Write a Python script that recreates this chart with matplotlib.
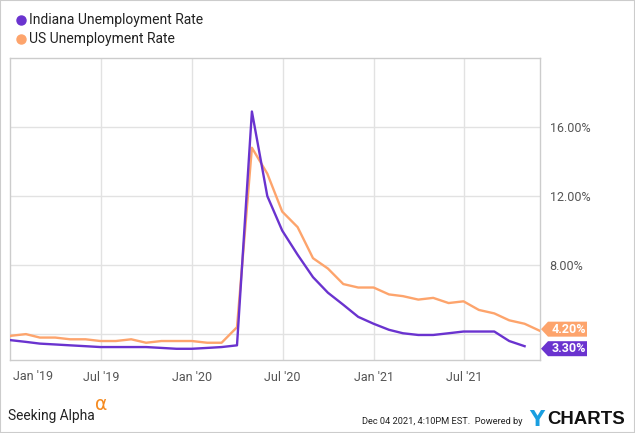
import matplotlib
matplotlib.use("Agg")
import matplotlib.pyplot as plt
from matplotlib.patches import Polygon, Rectangle
from matplotlib.lines import Line2D
import pandas as pd

plt.rcParams['font.family'] = ['Roboto', 'DejaVu Sans']

# Data (month-end dates)
us_dates = pd.date_range('2018-12-31', periods=36, freq='ME')
us_rate = [3.9, 4.0, 3.8, 3.8, 3.7, 3.7, 3.6, 3.6, 3.7, 3.5, 3.6, 3.6, 3.6,
           3.5, 3.5, 4.4, 14.8, 13.3, 11.1, 10.2, 8.4, 7.8, 6.9, 6.7, 6.7,
           6.3, 6.2, 6.0, 6.1, 5.8, 5.9, 5.4, 5.2, 4.8, 4.6, 4.2]
in_dates = pd.date_range('2018-12-31', periods=35, freq='ME')
in_rate = [3.65, 3.55, 3.45, 3.4, 3.35, 3.3, 3.25, 3.25, 3.25, 3.25, 3.2, 3.15, 3.15,
           3.2, 3.25, 3.35, 16.9, 12.0, 10.0, 8.6, 7.3, 6.4, 5.7, 5.0, 4.6,
           4.25, 4.05, 3.95, 3.95, 4.05, 4.15, 4.15, 4.15, 3.6, 3.3]
series_names = ['Indiana Unemployment Rate', 'US Unemployment Rate']
last_labels = ['3.30%', '4.20%']
x_tick_dates = ['2019-01-01', '2019-07-01', '2020-01-01', '2020-07-01', '2021-01-01', '2021-07-01']
x_tick_labels = ["Jan '19", "Jul '19", "Jan '20", "Jul '20", "Jan '21", "Jul '21"]
y_ticks = [4, 8, 12, 16]
y_tick_labels = ['', '8.00%', '12.00%', '16.00%']

PURPLE = '#6a33cf'
ORANGE = '#fda46c'
GRID = '#e2e2e2'
SPINE = '#cccccc'
TXT = '#555555'

W, H = 635, 433
fig = plt.figure(figsize=(W / 100, H / 100), dpi=100)
ax = fig.add_axes([10 / W, 1 - 360 / H, 530 / W, 302 / H])

ax.plot(us_dates, us_rate, color=ORANGE, lw=1.7, solid_joinstyle='round', zorder=3)
ax.plot(in_dates, in_rate, color=PURPLE, lw=1.7, solid_joinstyle='round', zorder=4)

ax.set_xlim(pd.Timestamp('2018-12-30'), pd.Timestamp('2021-12-01'))
ax.set_ylim(2.5, 20.0)

tick_pos = [pd.Timestamp(d) for d in x_tick_dates]
ax.set_xticks(tick_pos[1:])
ax.set_xticklabels(x_tick_labels[1:])
ax.tick_params(axis='x', length=0, pad=8, labelsize=9, labelcolor=TXT)
fig.text(13 / W, 1 - 377 / H, x_tick_labels[0], ha='left', va='center',
         fontsize=9, color=TXT)

ax.set_yticks(y_ticks)
ax.set_yticklabels(y_tick_labels)
ax.yaxis.tick_right()
ax.tick_params(axis='y', length=0, pad=7, labelsize=9, labelcolor=TXT)

ax.grid(True, color=GRID, lw=1)
ax.set_axisbelow(True)
for s in ax.spines.values():
    s.set_color(SPINE)
    s.set_linewidth(1)

# Legend
for i, (name, col) in enumerate(zip(series_names, [PURPLE, ORANGE])):
    yy = 1 - (20 + 19 * i) / H
    fig.add_artist(Line2D([20.5 / W], [yy], marker='o', ms=6.5, color=col, lw=0,
                          transform=fig.transFigure))
    fig.text(29 / W, yy, name, ha='left', va='center', fontsize=10, color='#222222')

# End-value labels
fig.canvas.draw()
renderer = fig.canvas.get_renderer()
for val, lab, col in [(in_rate[-1], last_labels[0], PURPLE), (us_rate[-1], last_labels[1], ORANGE)]:
    yd = ax.transData.transform((0, val))[1]
    yc = yd + (1.5 if col == ORANGE else -2.5)
    hh = 7.5
    x0, x1, x2 = 541, 548, 587
    poly = Polygon([[x0, yc], [x1, yc + hh], [x2, yc + hh], [x2, yc - hh], [x1, yc - hh]],
                   closed=True, facecolor=col, edgecolor='none', transform=None, zorder=10)
    fig.patches.append(poly)
    fig.text((x1 + x2) / 2 / W + 1 / W, yc / H, lab, ha='center', va='center', fontsize=9,
             fontweight='bold', color='white', zorder=11)


def fit_text(x, y, s, width, size, **kw):
    t = fig.text(x / W, 1 - y / H, s, ha='left', va='center', fontsize=size, **kw)
    w = t.get_window_extent(renderer).width
    t.set_fontsize(size * width / w)
    return t


# Footer
fit_text(8, 416, 'Seeking Alpha', 87, 13, color='#222222')
fig.text(95 / W, 1 - 405 / H, 'α', ha='left', va='center', fontsize=13.5, color='#f58a1f',
         family=['DejaVu Sans'])
fit_text(362, 421, 'Dec 04 2021, 4:10PM EST.  Powered by', 162, 8, color='#222222')
fig.text(529 / W, 1 - 420 / H, 'Y', ha='left', va='center', fontsize=15, fontweight='bold',
         color='#1a9fe0', family=['DejaVu Sans'])
fit_text(547, 420, 'CHARTS', 78, 13, fontweight='bold', color='#111111',
         family=['Liberation Sans', 'DejaVu Sans'])

# Figure border
fig.patches.append(Rectangle((0, 0), 1, 1, transform=fig.transFigure, fill=False,
                             edgecolor='#cccccc', lw=1.5, figure=fig))

fig.savefig('out.png', dpi=100)
